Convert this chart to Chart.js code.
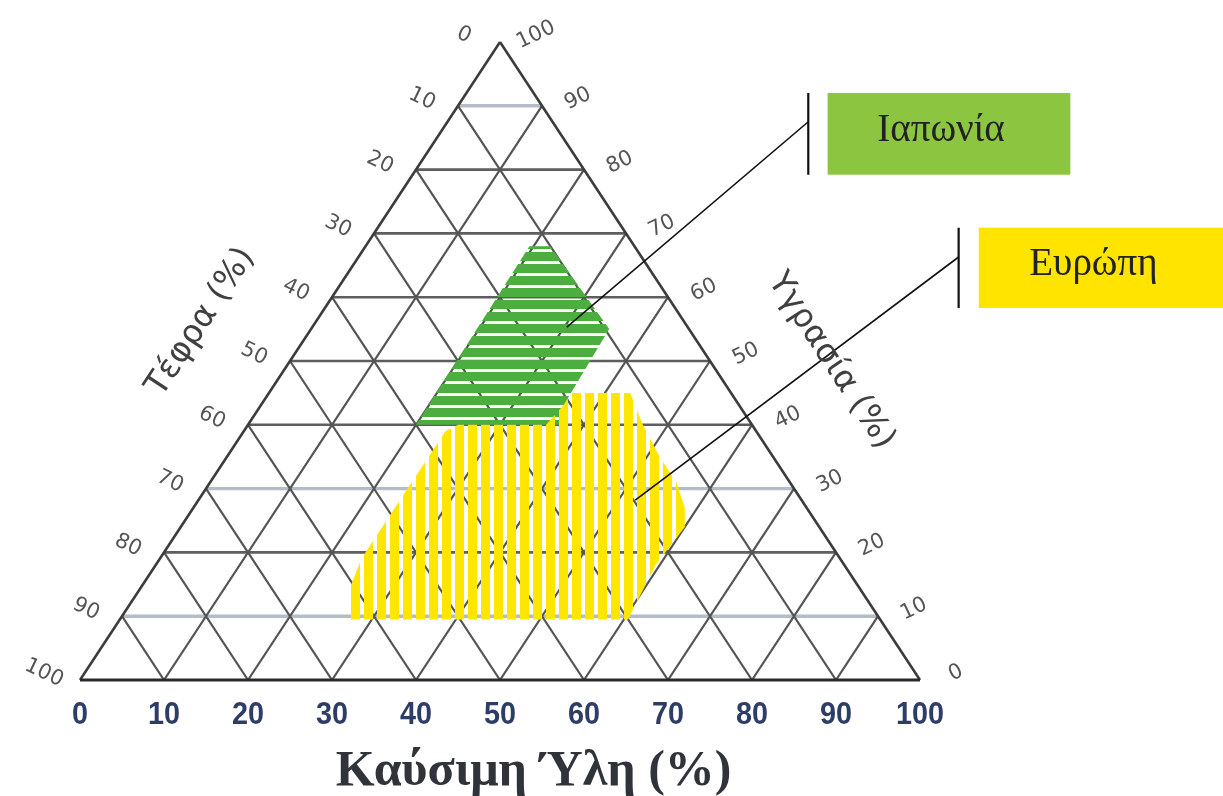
<!DOCTYPE html>
<html>
<head>
<meta charset="utf-8">
<title>Τριγωνικό διάγραμμα σύστασης απορριμμάτων</title>
<script src="https://cdn.jsdelivr.net/npm/chart.js@4.4.1/dist/chart.umd.min.js"></script>
<style>
  html, body { margin: 0; padding: 0; background: #ffffff; }
  #wrap { width: 1223px; height: 796px; }
</style>
</head>
<body>
<div id="wrap"><canvas id="chart" width="1223" height="796"></canvas></div>
<script>
// Ternary composition in percent: fuel = Καύσιμη Ύλη, moisture = Υγρασία,
// ash (Τέφρα) = 100 - fuel - moisture.
const tickValues = [0, 10, 20, 30, 40, 50, 60, 70, 80, 90, 100];
const gridLevels = [10, 20, 30, 40, 50, 60, 70, 80, 90];
const faintMoistureLevels = [10, 30, 90];

// Japan region outline (fuel %, moisture %)
const japanFuel     = [19.5, 22, 35.5, 36, 37, 20];
const japanMoisture = [68,   68, 55,   44, 40, 40];

// Europe region outline (fuel %, moisture %)
const europeFuel     = [27,  25, 24, 24, 24, 24, 25, 35.5, 36, 36, 43, 47, 51.5, 55.5, 58.5, 60, 59.5, 60.5];
const europeMoisture = [9.5, 14, 19, 26, 33, 39, 40, 40,   43, 45, 45, 40, 35,   31,   27,   24, 18,   9.5];

const regionNames = ['Ιαπωνία', 'Ευρώπη'];
const fuelTitle = 'Καύσιμη Ύλη (%)';
const ashTitle = 'Τέφρα (%)';
const moistureTitle = 'Υγρασία (%)';

// Callout geometry, in chart units (x across, y up; the triangle spans 0..100)
const callouts = [
  { name: regionNames[0], inner: [30.3, 55.3], barX: 86.7, joinY: 87.5,
    box: { left: 89.0, right: 117.9, top: 92.0, bottom: 79.2 }, color: '#8cc540' },
  { name: regionNames[1], inner: [52.0, 28.2], barX: 104.6, joinY: 66.3,
    box: { left: 107.0, right: 136.2, top: 70.9, bottom: 58.3 }, color: '#ffe400' }
];

const toXY = (fuel, moisture) => ({ x: fuel + moisture / 2, y: moisture });
const GAP = { x: null, y: null };

function polygon(fuels, moistures) {
  const pts = fuels.map((f, i) => toXY(f, moistures[i]));
  pts.push(pts[0]);
  return pts;
}
function segments(pairs) {
  const out = [];
  pairs.forEach(([a, b]) => out.push(toXY(a[0], a[1]), toXY(b[0], b[1]), GAP));
  return out;
}

const faintLevels = gridLevels.filter(m => faintMoistureLevels.includes(m));
const strongLevels = gridLevels.filter(m => !faintMoistureLevels.includes(m));
const horizontals = ms => segments(ms.map(m => [[0, m], [100 - m, m]]));
const diagonalData = segments([
  ...gridLevels.map(f => [[f, 0], [f, 100 - f]]),         // constant fuel
  ...gridLevels.map(a => [[100 - a, 0], [0, 100 - a]])    // constant ash
]);
const sideData = segments([[[0, 0], [0, 100]], [[100, 0], [0, 100]]]);
const baseData = segments([[[0, 0], [100, 0]]]);

const leaderData = [];
const barData = [];
callouts.forEach(c => {
  leaderData.push(toXY(c.inner[0], c.inner[1]), { x: c.barX, y: c.joinY }, GAP);
  barData.push({ x: c.barX, y: c.box.top }, { x: c.barX, y: c.box.bottom }, GAP);
});

function stripePattern(color, period, band, vertical) {
  const c = document.createElement('canvas');
  c.width = period; c.height = period;
  const g = c.getContext('2d');
  g.fillStyle = color;
  if (vertical) g.fillRect(0, 0, band, period);
  else g.fillRect(0, 0, period, band);
  return g.createPattern(c, 'repeat');
}
const yellowStripes = stripePattern('#ffe600', 13, 9, true);
const greenStripes = stripePattern('#4cae3e', 12, 9, false);

function lineSet(data, color, width, extra) {
  return Object.assign({
    data, showLine: true, pointRadius: 0, pointHoverRadius: 0,
    borderColor: color, borderWidth: width, spanGaps: false, fill: false
  }, extra || {});
}

function rotatedText(ctx, text, x, y, angle, sx) {
  ctx.save();
  ctx.translate(x, y);
  ctx.rotate(angle);
  if (sx) ctx.scale(sx, 1);
  ctx.fillText(text, 0, 0);
  ctx.restore();
}

const annotations = {
  id: 'annotations',
  afterDraw(chart) {
    const { ctx, scales: { x, y } } = chart;
    const pix = (fx, fy) => [x.getPixelForValue(fx), y.getPixelForValue(fy)];
    const tern = (f, m) => { const p = toXY(f, m); return pix(p.x, p.y); };
    const [blX, blY] = tern(0, 0);
    const [apX, apY] = tern(0, 100);
    const [brX, brY] = tern(100, 0);
    const leftAngle = Math.atan2(apY - blY, apX - blX);
    const rightAngle = Math.atan2(brY - apY, brX - apX);

    ctx.save();
    ctx.textAlign = 'center';
    ctx.textBaseline = 'middle';

    // fuel tick labels along the base
    ctx.font = 'bold 32px "Liberation Sans", Arial, sans-serif';
    ctx.fillStyle = '#2e3d66';
    tickValues.forEach(v => {
      const [X, Y] = tern(v, 0);
      rotatedText(ctx, String(v), X, Y + 35, 0, 0.9);
    });

    // ash tick labels on the left side, moisture tick labels on the right side
    ctx.font = '21px "DejaVu Sans", sans-serif';
    ctx.fillStyle = '#555555';
    tickValues.forEach(a => {
      const [X, Y] = tern(0, 100 - a);
      rotatedText(ctx, String(a), X - 36, Y - 7, Math.PI / 7);
    });
    tickValues.forEach(m => {
      const [X, Y] = tern(100 - m, m);
      rotatedText(ctx, String(m), X + 36, Y - 7, -Math.PI / 7);
    });

    // side titles
    ctx.font = '33px "DejaVu Sans", sans-serif';
    ctx.fillStyle = '#404040';
    {
      const [X, Y] = tern(0, 55);
      rotatedText(ctx, ashTitle, X - 110, Y - 7, leftAngle);
    }
    {
      const [X, Y] = tern(50, 50);
      rotatedText(ctx, moistureTitle, X + 121, Y, rightAngle);
    }

    // base title
    ctx.font = 'bold 50px "Liberation Serif", "Times New Roman", serif';
    ctx.fillStyle = '#30333a';
    {
      const [X, Y] = tern(54, 0);
      ctx.fillText(fuelTitle, X, Y + 92);
    }

    // callout boxes
    callouts.forEach(c => {
      const [l, t] = pix(c.box.left, c.box.top);
      const [r, b] = pix(c.box.right, c.box.bottom);
      ctx.fillStyle = c.color;
      ctx.fillRect(l, t, r - l, b - t);
      ctx.fillStyle = '#222222';
      ctx.font = '39px "Liberation Serif", "Times New Roman", serif';
      ctx.fillText(c.name, (l + r) / 2 - 8, (t + b) / 2 - 3);
    });
    ctx.restore();
  }
};

new Chart(document.getElementById('chart'), {
  type: 'scatter',
  data: {
    datasets: [
      lineSet(leaderData, '#111111', 1.6, { clip: false }),
      lineSet(barData, '#111111', 2.2, { clip: false }),
      lineSet(polygon(europeFuel, europeMoisture), 'rgba(0,0,0,0)', 0,
        { label: regionNames[1], fill: 'shape', backgroundColor: yellowStripes }),
      lineSet(polygon(japanFuel, japanMoisture), 'rgba(0,0,0,0)', 0,
        { label: regionNames[0], fill: 'shape', backgroundColor: greenStripes }),
      lineSet(baseData, '#2a2a2a', 3.2, { clip: false }),
      lineSet(sideData, '#3c3c3c', 2.6, { clip: false }),
      lineSet(diagonalData, '#555555', 2.2),
      lineSet(horizontals(strongLevels), '#5e5e5e', 2.6),
      lineSet(horizontals(faintLevels), '#b3bcc8', 3.4)
    ]
  },
  options: {
    responsive: false,
    animation: false,
    devicePixelRatio: 1,
    layout: { padding: { left: 80, right: 303, top: 42, bottom: 116 } },
    scales: {
      x: { type: 'linear', min: 0, max: 100, display: false },
      y: { type: 'linear', min: 0, max: 100, display: false }
    },
    plugins: { legend: { display: false }, tooltip: { enabled: false } }
  },
  plugins: [annotations]
});
</script>
</body>
</html>
